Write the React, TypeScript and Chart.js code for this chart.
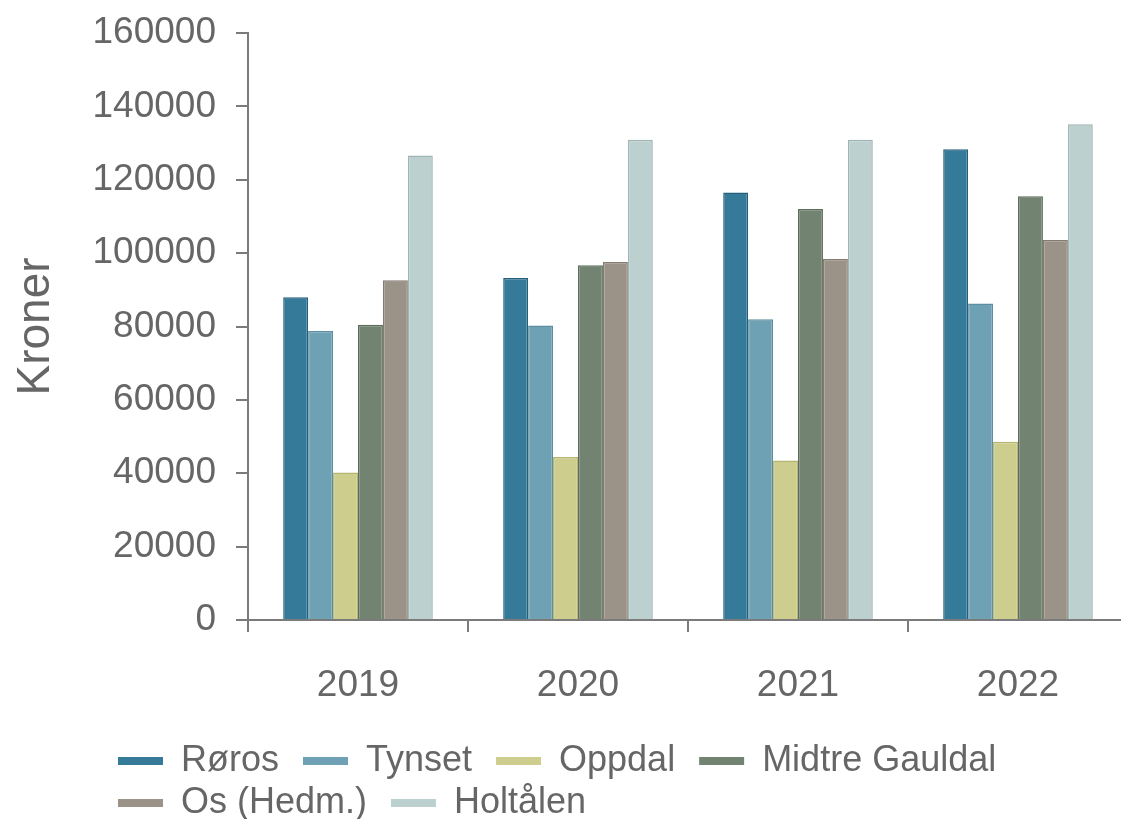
import React, { useEffect, useRef } from "react";
import { Chart, registerables } from "chart.js";

Chart.register(...registerables);

const categories = ["2019", "2020", "2021", "2022"];
const seriesNames = ["Røros", "Tynset", "Oppdal", "Midtre Gauldal", "Os (Hedm.)", "Holtålen"];
const roros = [88000, 93200, 116500, 128300];
const tynset = [78800, 80300, 82000, 86300];
const oppdal = [40200, 44400, 43500, 48600];
const midtreGauldal = [80500, 96700, 112000, 115500];
const osHedm = [92600, 97600, 98400, 103600];
const holtalen = [126600, 130900, 130900, 135100];
const yTicks = [0, 20000, 40000, 60000, 80000, 100000, 120000, 140000, 160000];
const yTitle = "Kroner";

const fills = ["#357a99", "#6fa1b5", "#cdce8d", "#728471", "#9b9288", "#bcd0d0"];
const borders = ["#24607e", "#5b8ea2", "#b5b56f", "#5c6e5b", "#847b71", "#9fb4b4"];

const FONT = "'Liberation Sans', Arial, sans-serif";
const AXIS = "#7b7b7b";

export default function App() {
  const ref = useRef<HTMLCanvasElement | null>(null);
  useEffect(() => {
    if (!ref.current) return;
    const values = [roros, tynset, oppdal, midtreGauldal, osHedm, holtalen];
    const legendShift = {
      id: "legendShift",
      afterLayout(chart: any) {
        if (chart.legend) {
          chart.legend.left += 112;
          chart.legend.top += 12;
          chart.legend.bottom += 12;
        }
      },
    };
    const chart = new Chart(ref.current, {
      type: "bar",
      data: {
        labels: categories,
        datasets: seriesNames.map((name, i) => ({
          label: name,
          data: values[i],
          backgroundColor: fills[i],
          borderColor: borders[i],
          borderWidth: 1.5,
          categoryPercentage: 0.68,
          barPercentage: 1.0,
        })),
      },
      options: {
        animation: false,
        responsive: true,
        maintainAspectRatio: false,
        layout: { padding: { top: 33, right: 7, left: 0, bottom: 0 } },
        plugins: {
          tooltip: { enabled: false },
          legend: {
            position: "bottom",
            align: "start",
            labels: {
              boxWidth: 45,
              boxHeight: 8,
              padding: 6,
              color: "#666666",
              font: { family: FONT, size: 36 },
              generateLabels(chart: any) {
                const items = Chart.defaults.plugins.legend.labels.generateLabels(chart);
                return items.map((it: any) => ({ ...it, lineWidth: 0, text: it.text + "\u2002" }));
              },
            },
          },
        },
        scales: {
          x: {
            grid: {
              display: true,
              drawOnChartArea: false,
              drawTicks: true,
              tickLength: 12,
              color: AXIS,
              lineWidth: 2,
              offset: true,
            },
            border: { display: true, color: AXIS, width: 2 },
            ticks: {
              color: "#666666",
              font: { family: FONT, size: 37 },
              padding: 32,
            },
            afterFit(scale: any) {
              scale.height = 105;
            },
          },
          y: {
            min: 0,
            max: 160000,
            afterBuildTicks(scale: any) {
              scale.ticks = yTicks.map((v) => ({ value: v }));
            },
            grid: {
              display: true,
              drawOnChartArea: false,
              drawTicks: true,
              tickLength: 12,
              color: AXIS,
              lineWidth: 2,
            },
            border: { display: true, color: AXIS, width: 2 },
            ticks: {
              color: "#666666",
              font: { family: FONT, size: 37 },
              padding: 20,
              callback: (v: any) => String(v),
            },
            title: {
              display: true,
              text: yTitle,
              color: "#666666",
              font: { family: FONT, size: 46 },
              padding: { top: 9, bottom: 0 },
            },
            afterFit(scale: any) {
              scale.width = 248;
              scale.paddingTop = 0;
              scale.paddingBottom = 0;
            },
          },
        },
      },
      plugins: [legendShift],
    } as any);
    return () => chart.destroy();
  }, []);
  return (
    <div style={{ position: "fixed", left: 0, top: 0, width: 1121, height: 819, overflow: "hidden", background: "#ffffff" }}>
      <div style={{ position: "relative", width: 1135, height: 819 }}>
        <canvas ref={ref} />
      </div>
    </div>
  );
}
